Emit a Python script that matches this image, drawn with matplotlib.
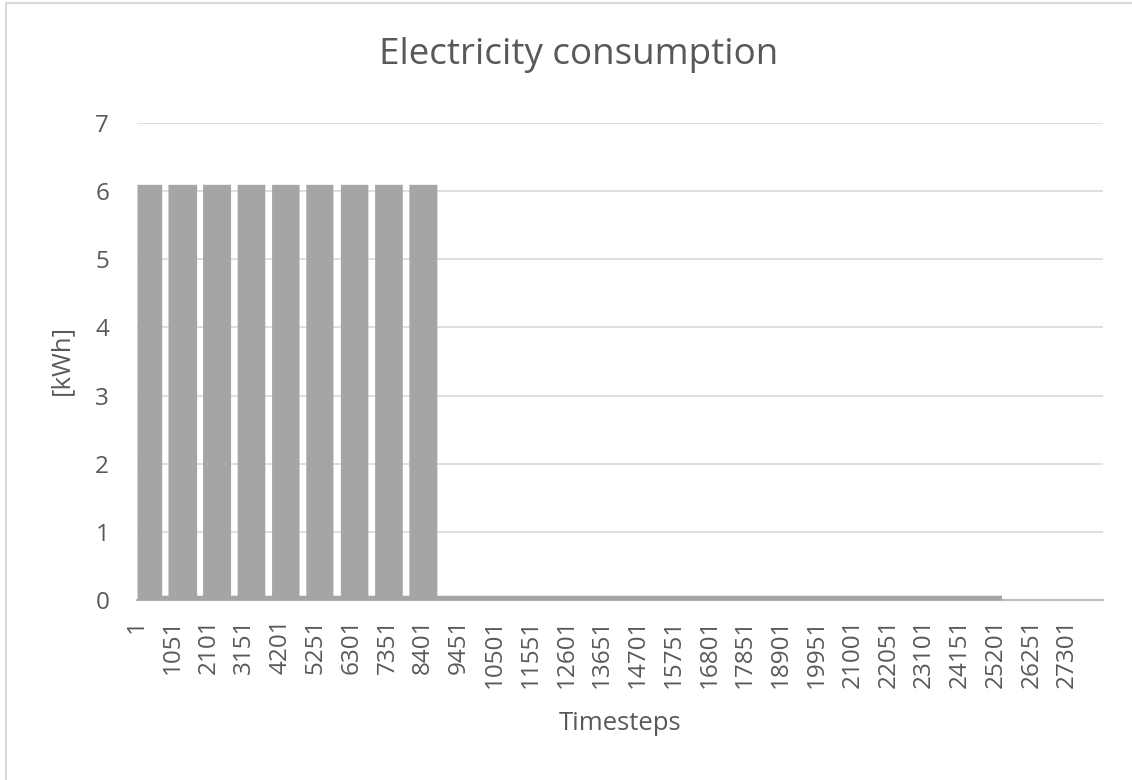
import numpy as np
import matplotlib
matplotlib.use('Agg')
from matplotlib import pyplot as plt
from matplotlib.patches import Rectangle


# hourly electricity use: 6.1 kWh during the operating blocks,
# a small standby load afterwards, nothing at the end of the horizon
n_steps = 28350
block_starts = [1, 910, 1925, 2940, 3950, 4955, 5970, 6975, 7980]
block_ends = [725, 1750, 2745, 3750, 4755, 5750, 6775, 7785, 8800]
block_load = 6.1
standby_load = 0.07
standby_end = 25370

tick_steps = list(range(1, 27302, 1050))
y_ticks = [0, 1, 2, 3, 4, 5, 6, 7]

timesteps = np.arange(1, n_steps + 1)
consumption = np.zeros(n_steps)
consumption[:standby_end] = standby_load
for s, e in zip(block_starts, block_ends):
    consumption[s - 1:e] = block_load

text_color = '#595959'
plt.rcParams['font.family'] = ['Open Sans', 'DejaVu Sans']

W, H = 1132, 780
fig = plt.figure(figsize=(W / 100, H / 100), dpi=100)
ax = fig.add_axes([137 / W, 180 / H, 966 / W, 477 / H])

ax.fill_between(timesteps, consumption, step='mid', color='#a5a5a5',
                linewidth=0, zorder=3)

ax.set_xlim(0.5, n_steps + 0.5)
ax.set_ylim(0, 7)
ax.set_yticks(y_ticks)
ax.set_xticks(tick_steps)
ax.set_xticklabels([str(t) for t in tick_steps], rotation=90)
ax.tick_params(axis='x', length=0, pad=13.5, labelsize=17.5, labelcolor=text_color)
ax.tick_params(axis='y', length=0, pad=20, labelsize=17.5, labelcolor=text_color)

ax.grid(axis='y', color='#d9d9d9', linewidth=1.2, zorder=0)
for side in ['top', 'right', 'left']:
    ax.spines[side].set_visible(False)
ax.spines['bottom'].set_color('#bfbfbf')
ax.spines['bottom'].set_linewidth(1.6)
ax.spines['bottom'].set_zorder(2)

fig.text(579 / W, 1 - 64 / H, 'Electricity consumption', ha='center',
         va='baseline', fontsize=26.5, color=text_color)
fig.text(62 / W, 1 - 360 / H, '[kWh]', ha='center', va='center',
         rotation=90, fontsize=18.5, color=text_color)
fig.text(620 / W, 1 - 730 / H, 'Timesteps', ha='center', va='baseline',
         fontsize=18.5, color=text_color)

# chart area outline (right and bottom edges fall outside the image)
fig.patches.append(Rectangle((6 / W, -10 / H), 1140 / W, 787 / H,
                             transform=fig.transFigure, fill=False,
                             edgecolor='#d9d9d9', linewidth=1.5))

fig.savefig('out.png', dpi=100)
